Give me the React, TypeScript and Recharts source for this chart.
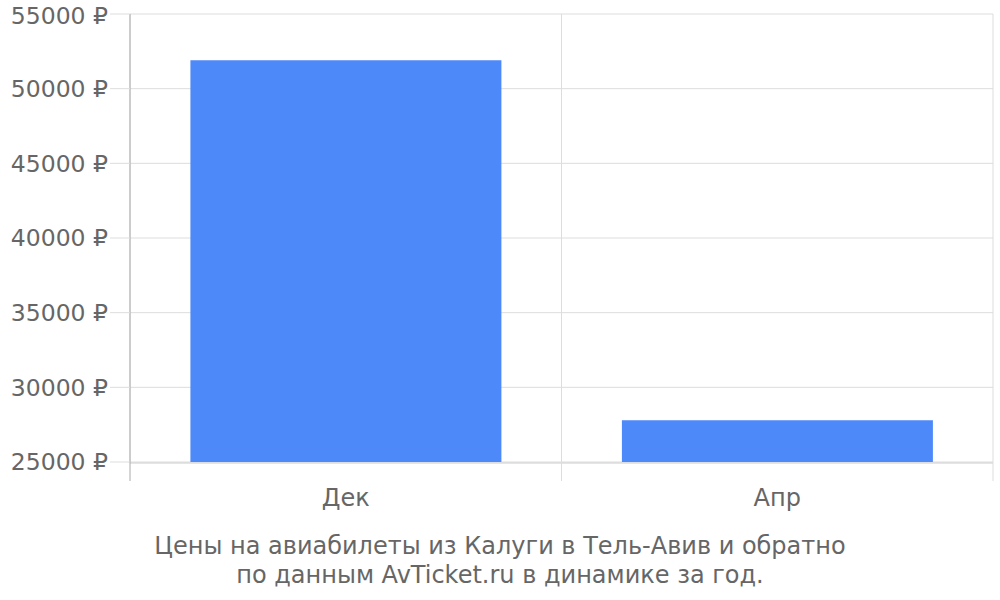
import { BarChart, Bar, XAxis, YAxis, CartesianGrid } from 'recharts'

const MONTHS = ['Дек', 'Апр']
const PRICES = [51900, 27800]
const Y_TICKS = [25000, 30000, 35000, 40000, 45000, 50000, 55000]
const CAPTION = [
  'Цены на авиабилеты из Калуги в Тель-Авив и обратно',
  'по данным AvTicket.ru в динамике за год.',
]

const FONT = '"DejaVu Sans", sans-serif'
const TEXT = '#666666'

// category data, plus a numeric position used for the boundary ticks
const chartData = MONTHS.map((month, i) => ({ month, price: PRICES[i], pos: i + 0.5 }))

const BoundaryTick = (props: any) => {
  const { x, payload } = props
  return (
    <line
      x1={x}
      x2={x}
      y1={462}
      y2={481}
      stroke={payload.value === 0 ? '#aaaaaa' : '#dddddd'}
      strokeWidth={1}
    />
  )
}

export default function App() {
  return (
    <div style={{ position: 'absolute', left: 0, top: 0, width: 1000, height: 600, fontFamily: FONT }}>
      <BarChart
        width={1000}
        height={600}
        data={chartData}
        margin={{ top: 14, right: 7, left: 0, bottom: 78 }}
        barCategoryGap="14%"
      >
        <CartesianGrid stroke="#dddddd" horizontal vertical />
        <XAxis
          xAxisId={0}
          dataKey="pos"
          type="number"
          domain={[0, 2]}
          ticks={[0, 1, 2]}
          axisLine={false}
          tickLine={false}
          tick={BoundaryTick}
          height={1}
        />
        <XAxis
          xAxisId="cat"
          dataKey="month"
          axisLine={{ stroke: '#cccccc' }}
          tickLine={false}
          tickSize={12}
          tickMargin={14}
          height={59}
          tick={{ fill: TEXT, fontSize: 24, fontFamily: FONT }}
        />
        <YAxis
          domain={[25000, 55000]}
          ticks={Y_TICKS}
          width={130}
          axisLine={{ stroke: '#aaaaaa' }}
          tickLine={{ stroke: '#dddddd' }}
          tickSize={20}
          tickMargin={2}
          allowDataOverflow
          tickFormatter={(v) => `${v} ₽`}
          tick={{ fill: TEXT, fontSize: 23.5, fontFamily: FONT }}
        />
        <Bar dataKey="price" xAxisId="cat" fill="#4d89f9" isAnimationActive={false} />
      </BarChart>
      <div
        style={{
          position: 'absolute',
          left: 0,
          top: 532,
          width: 1000,
          textAlign: 'center',
          color: TEXT,
          fontSize: 24,
          lineHeight: '29px',
        }}
      >
        {CAPTION.map((line) => (
          <div key={line}>{line}</div>
        ))}
      </div>
    </div>
  )
}
